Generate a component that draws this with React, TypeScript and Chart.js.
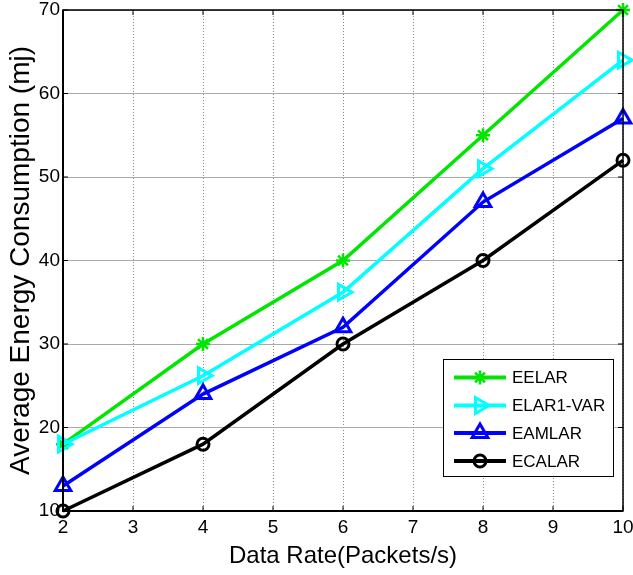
import React, { useEffect, useRef } from "react";
import { Chart, registerables } from "chart.js";
import { drawPoint } from "chart.js/helpers";

Chart.register(...registerables);

const dataRates = [2, 4, 6, 8, 10];
const eelar = [18, 30, 40, 55, 70];
const elar1Var = [18, 26.2, 36.2, 51, 64];
const eamlar = [13, 24, 32, 47, 57];
const ecalar = [10, 18, 30, 40, 52];
const seriesNames = ["EELAR", "ELAR1-VAR", "EAMLAR", "ECALAR"];
const xTitle = "Data Rate(Packets/s)";
const yTitle = "Average Energy Consumption (mj)";

const FONT = "'Liberation Sans', Arial, sans-serif";

const framePlugin = {
  id: "frame",
  afterDraw(chart: any) {
    const ctx = chart.ctx;
    const { left, right, top, bottom } = chart.chartArea;
    ctx.save();
    ctx.strokeStyle = "#000";
    ctx.lineWidth = 1;
    const xs = chart.scales.x;
    const ys = chart.scales.y;
    ctx.beginPath();
    xs.ticks.forEach((t: any) => {
      const px = xs.getPixelForValue(t.value);
      ctx.moveTo(px, bottom);
      ctx.lineTo(px, bottom - 5);
      ctx.moveTo(px, top);
      ctx.lineTo(px, top + 5);
    });
    ys.ticks.forEach((t: any) => {
      const py = ys.getPixelForValue(t.value);
      ctx.moveTo(left, py);
      ctx.lineTo(left + 5, py);
      ctx.moveTo(right, py);
      ctx.lineTo(right - 5, py);
    });
    ctx.stroke();
    ctx.lineWidth = 1.5;
    ctx.strokeRect(left, top, right - left, bottom - top);
    ctx.lineWidth = 2;
    ctx.beginPath();
    ctx.moveTo(left, top);
    ctx.lineTo(left, bottom);
    ctx.lineTo(right, bottom);
    ctx.stroke();

    // legend
    const bx = 443, by = 359, bw = 170, bh = 117;
    ctx.fillStyle = "#fff";
    ctx.fillRect(bx, by, bw, bh);
    ctx.lineWidth = 1;
    ctx.strokeStyle = "#000";
    ctx.strokeRect(bx + 0.5, by + 0.5, bw, bh);
    const rows = [377.5, 405.5, 433, 461];
    ctx.font = `17px ${FONT}`;
    ctx.textBaseline = "middle";
    ctx.textAlign = "left";
    chart.data.datasets.forEach((ds: any, i: number) => {
      const y = rows[i];
      ctx.strokeStyle = ds.borderColor;
      ctx.lineWidth = 4;
      ctx.beginPath();
      ctx.moveTo(454, y);
      ctx.lineTo(506, y);
      ctx.stroke();
      ctx.fillStyle = "rgba(0,0,0,0)";
      ctx.strokeStyle = ds.borderColor;
      ctx.lineWidth = ds.pointBorderWidth;
      drawPoint(
        ctx,
        {
          pointStyle: ds.pointStyle,
          rotation: ds.pointRotation || 0,
          radius: ds.pointRadius,
          borderWidth: ds.pointBorderWidth,
        },
        480,
        y
      );
      ctx.fillStyle = "#000";
      ctx.fillText(ds.label, 512, y + 1);
    });
    ctx.restore();
  },
};

const zeroPad = (s: any) => {
  s.paddingTop = 0;
  s.paddingBottom = 0;
  s.paddingLeft = 0;
  s.paddingRight = 0;
};

export default function App() {
  const ref = useRef<HTMLCanvasElement | null>(null);
  useEffect(() => {
    document.body.style.margin = "0";
    const canvas = ref.current!;
    const mk = (vals: number[]) => dataRates.map((x, i) => ({ x, y: vals[i] }));
    const chart = new Chart(canvas, {
      type: "line",
      data: {
        datasets: [
          {
            label: seriesNames[0],
            data: mk(eelar),
            borderColor: "#00e600",
            backgroundColor: "rgba(0,0,0,0)",
            borderWidth: 3.5,
            pointStyle: "star",
            pointRadius: 7,
            pointBorderWidth: 2.5,
            pointBackgroundColor: "rgba(0,0,0,0)",
            order: 3,
            clip: false,
          },
          {
            label: seriesNames[1],
            data: mk(elar1Var),
            borderColor: "#00ffff",
            backgroundColor: "rgba(0,0,0,0)",
            borderWidth: 3.5,
            pointStyle: "triangle",
            pointRotation: 90,
            pointRadius: 9,
            pointBorderWidth: 3,
            pointBackgroundColor: "rgba(0,0,0,0)",
            order: 2,
            clip: false,
          },
          {
            label: seriesNames[2],
            data: mk(eamlar),
            borderColor: "#0000ff",
            backgroundColor: "rgba(0,0,0,0)",
            borderWidth: 3.5,
            pointStyle: "triangle",
            pointRadius: 9,
            pointBorderWidth: 3,
            pointBackgroundColor: "rgba(0,0,0,0)",
            order: 1,
            clip: false,
          },
          {
            label: seriesNames[3],
            data: mk(ecalar),
            borderColor: "#000000",
            backgroundColor: "rgba(0,0,0,0)",
            borderWidth: 3.5,
            pointStyle: "circle",
            pointRadius: 6,
            pointBorderWidth: 3,
            pointBackgroundColor: "rgba(0,0,0,0)",
            order: 0,
            clip: false,
          },
        ] as any,
      },
      options: {
        responsive: false,
        animation: false,
        layout: { padding: { top: 10, right: 10, left: 0, bottom: 0 }, autoPadding: false } as any,
        plugins: { legend: { display: false }, tooltip: { enabled: false } },
        scales: {
          x: {
            type: "linear",
            min: 2,
            max: 10,
            afterFit: (s: any) => {
              s.height = 64;
              zeroPad(s);
            },
            ticks: {
              stepSize: 1,
              padding: 5,
              color: "#000",
              font: { family: FONT, size: 19 },
            },
            grid: { color: "#888", lineWidth: 1, drawTicks: false },
            border: { display: false, dash: [1, 2] },
            title: {
              display: true,
              text: xTitle,
              color: "#000",
              font: { family: FONT, size: 24 },
              padding: { top: 4, bottom: 4 },
            },
          },
          y: {
            type: "linear",
            min: 10,
            max: 70,
            afterFit: (s: any) => {
              s.width = 63;
              zeroPad(s);
            },
            ticks: {
              stepSize: 10,
              padding: 3,
              color: "#000",
              font: { family: FONT, size: 19 },
            },
            grid: { color: "#aaa", lineWidth: 1, drawTicks: false },
            border: { display: false },
            title: {
              display: true,
              text: yTitle,
              color: "#000",
              font: { family: FONT, size: 28 },
              padding: { top: 4, bottom: 4 },
            },
          },
        },
      } as any,
      plugins: [framePlugin],
    });
    return () => chart.destroy();
  }, []);
  return <canvas ref={ref} width={633} height={575} style={{ display: "block" }} />;
}
